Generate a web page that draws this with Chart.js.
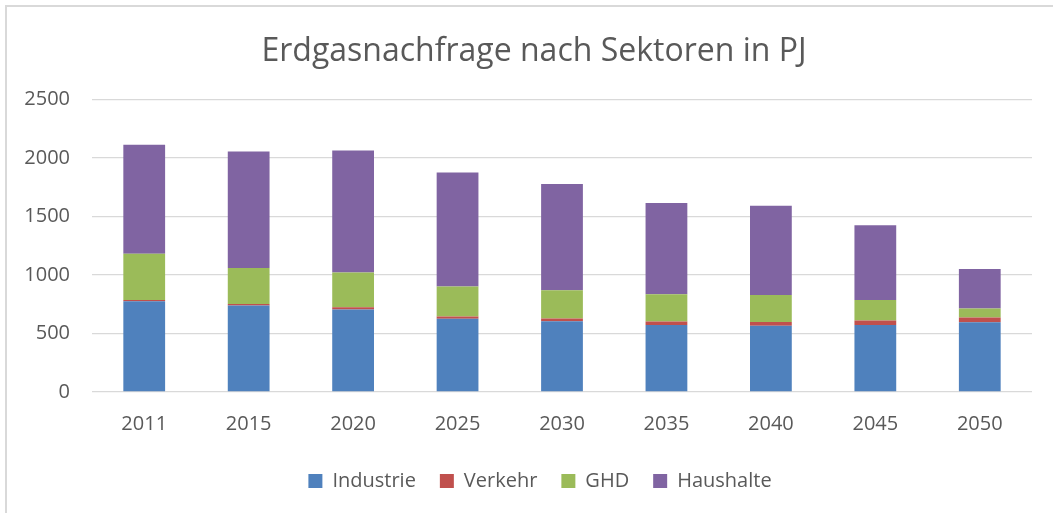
<!DOCTYPE html>
<html>
<head>
<meta charset="utf-8">
<script src="https://cdn.jsdelivr.net/npm/chart.js@4"></script>
<style>
  html, body { margin: 0; padding: 0; background: #fff; overflow: hidden; }
  #wrap { position: relative; width: 1053px; height: 513px; }
  #frame { position: absolute; left: 5px; top: 5px; width: 1100px; height: 600px;
           border-top: 2px solid #d9d9d9; border-left: 2px solid #d9d9d9; box-sizing: border-box; pointer-events: none; }
  canvas { position: absolute; left: 0; top: 0; }
</style>
</head>
<body>
<div id="wrap">
  <canvas id="c" width="1053" height="513"></canvas>
  <div id="frame"></div>
</div>
<script>
const categories = ['2011','2015','2020','2025','2030','2035','2040','2045','2050'];
const industrie  = [775, 740, 705, 625, 605, 573, 567, 573, 597];
const verkehr    = [10, 12, 20, 20, 23, 29, 32, 37, 39];
const ghd        = [396, 308, 295, 256, 241, 233, 230, 176, 78];
const haushalte  = [931, 994, 1043, 974, 909, 779, 762, 638, 336];
const yTicks     = [0, 500, 1000, 1500, 2000, 2500];
const titleText  = 'Erdgasnachfrage nach Sektoren in PJ';

const FONT = "'Open Sans', sans-serif";
const TXT = '#595959';

// shift the title and legend centring box to the right (Excel centres them on the chart frame)
const shiftBlocks = {
  id: 'shiftBlocks',
  afterLayout(chart) {
    if (chart.titleBlock) chart.titleBlock.left = 36;
    if (chart.legend) chart.legend.left = 48;
  }
};

new Chart(document.getElementById('c'), {
  type: 'bar',
  data: {
    labels: categories,
    datasets: [
      { label: 'Industrie', data: industrie, backgroundColor: '#4f81bd' },
      { label: 'Verkehr',   data: verkehr,   backgroundColor: '#c0504d' },
      { label: 'GHD',       data: ghd,       backgroundColor: '#9bbb59' },
      { label: 'Haushalte', data: haushalte, backgroundColor: '#8064a2' }
    ]
  },
  plugins: [shiftBlocks],
  options: {
    responsive: false,
    animation: false,
    devicePixelRatio: 1,
    layout: { padding: { left: 0, right: 21, top: 0, bottom: 12 } },
    datasets: { bar: { barPercentage: 0.4, categoryPercentage: 1.0, borderWidth: 0 } },
    plugins: {
      title: {
        display: true, text: titleText, color: TXT,
        font: { family: FONT, size: 32, weight: 'normal' },
        padding: { top: 33, bottom: 28 }
      },
      legend: {
        position: 'bottom',
        labels: {
          color: TXT, font: { family: FONT, size: 20 },
          boxWidth: 14, boxHeight: 14, padding: 24
        }
      },
      tooltip: { enabled: false }
    },
    scales: {
      x: {
        stacked: true,
        grid: { display: false, drawTicks: false },
        border: { display: false },
        ticks: { color: TXT, font: { family: FONT, size: 20 }, padding: 20 },
        afterFit: (s) => { s.height = 55; }
      },
      y: {
        stacked: true,
        min: 0, max: 2500,
        afterBuildTicks: (s) => { s.ticks = yTicks.map(v => ({ value: v })); },
        grid: { color: '#d9d9d9', lineWidth: 1.3, drawTicks: false },
        border: { display: false },
        ticks: { color: TXT, font: { family: FONT, size: 20 }, padding: 22,
                 callback: (v) => String(v) },
        afterFit: (s) => { s.width = 92; }
      }
    }
  }
});
</script>
</body>
</html>
